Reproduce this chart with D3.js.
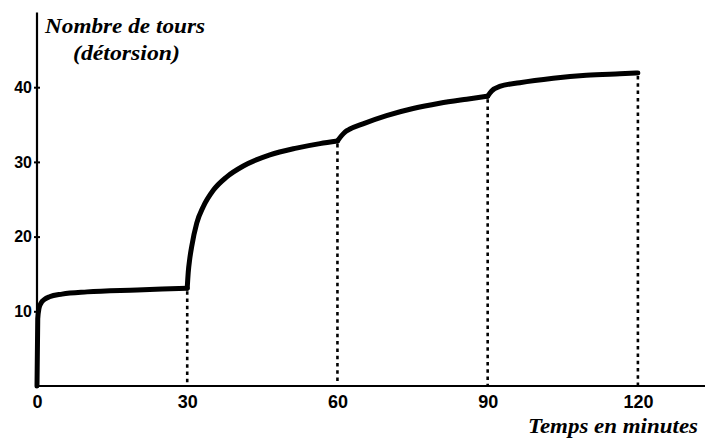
<!DOCTYPE html>
<html>
<head>
<meta charset="utf-8">
<script src="https://cdn.jsdelivr.net/npm/d3@7"></script>
<style>
  html, body { margin: 0; padding: 0; background: #fff; }
  svg { display: block; }
</style>
</head>
<body>
<svg id="chart" width="709" height="448"></svg>
<script>
// Twist count (détorsion) over time; each 30-minute stage starts with a sharp rise.
const stage1 = [[0, 0], [0.15, 9.0], [0.4, 10.4], [0.8, 11.1], [1.5, 11.6], [2.5, 11.95], [5, 12.3], [10, 12.6], [20, 12.85], [30, 13.1]];
const stage2 = [[30, 13.1], [30.2, 15.2], [30.5, 17.0], [30.9, 18.7], [31.9, 21.8], [33.2, 24.0], [35.2, 26.2], [37.9, 28.0], [41.2, 29.45], [46.5, 30.95], [51.8, 31.85], [56.5, 32.45], [60, 32.8]];
const stage3 = [[60, 32.8], [60.8, 33.5], [61.5, 34.0], [62.5, 34.4], [65.1, 35.1], [69.8, 36.2], [75.1, 37.15], [80.4, 37.85], [85.8, 38.4], [90, 38.8]];
const stage4 = [[90, 38.8], [90.8, 39.5], [92.4, 40.1], [96.4, 40.6], [103.1, 41.2], [109.7, 41.6], [116.4, 41.8], [120, 41.9]];
const stages = [stage1, stage2, stage3, stage4];

// Stage boundaries (minutes) and the reading reached at each one
const markTimes = [30, 60, 90, 120];
const markValues = [13.1, 32.8, 38.8, 41.9];

const xTicks = [0, 30, 60, 90, 120];
const yTicks = [10, 20, 30, 40];

const svg = d3.select("#chart");
const x = d3.scaleLinear().domain([0, 133.4]).range([37, 705]);
const y = d3.scaleLinear().domain([0, 50]).range([386, 12.5]);

const labelFont = "'Liberation Sans', Arial, sans-serif";
const scriptFont = "'Liberation Serif', 'DejaVu Serif', serif";

// Axes lines
svg.append("line")
  .attr("x1", x(0)).attr("x2", x(0))
  .attr("y1", y(0)).attr("y2", y(50))
  .attr("stroke", "#000").attr("stroke-width", 2.2);
svg.append("line")
  .attr("x1", x(0)).attr("x2", x(133.4))
  .attr("y1", y(0)).attr("y2", y(0))
  .attr("stroke", "#000").attr("stroke-width", 2);

// Y ticks: short marks across the axis, with labels on the left
const yAxis = d3.axisLeft(y).tickValues(yTicks).tickSizeInner(3).tickSizeOuter(0).tickPadding(3);
const gy = svg.append("g").attr("transform", `translate(${x(0)},0)`).call(yAxis);
gy.select(".domain").remove();
gy.selectAll(".tick line").attr("stroke-width", 2).attr("x2", -3).attr("x1", 3);
gy.selectAll(".tick text")
  .attr("font-family", labelFont).attr("font-weight", "bold")
  .attr("font-size", 16).attr("fill", "#000").attr("x", -5);

// X labels
const xAxis = d3.axisBottom(x).tickValues(xTicks).tickSize(0).tickPadding(9);
const gx = svg.append("g").attr("transform", `translate(0,${y(0)})`).call(xAxis);
gx.select(".domain").remove();
gx.selectAll(".tick text")
  .attr("font-family", labelFont).attr("font-weight", "bold")
  .attr("font-size", 18).attr("fill", "#000");

// Dotted verticals at each stage boundary
svg.selectAll("line.mark")
  .data(markTimes)
  .join("line")
  .attr("class", "mark")
  .attr("x1", d => x(d)).attr("x2", d => x(d))
  .attr("y1", (d, i) => y(markValues[i]) + 3)
  .attr("y2", y(0))
  .attr("stroke", "#000")
  .attr("stroke-width", 2.6)
  .attr("stroke-dasharray", "3.5,3.8");

// Curve, one stroke per stage so the junctions keep their cusps
const line = d3.line()
  .x(d => x(d[0]))
  .y(d => y(d[1]))
  .curve(d3.curveMonotoneX);

svg.selectAll("path.stage")
  .data(stages)
  .join("path")
  .attr("class", "stage")
  .attr("d", line)
  .attr("fill", "none")
  .attr("stroke", "#000")
  .attr("stroke-width", 5)
  .attr("stroke-linejoin", "round")
  .attr("stroke-linecap", "round");

// Titles
svg.append("text")
  .attr("x", 45).attr("y", 33)
  .attr("font-family", scriptFont).attr("font-style", "italic").attr("font-weight", "bold")
  .attr("font-size", 21)
  .attr("textLength", 160).attr("lengthAdjust", "spacingAndGlyphs")
  .text("Nombre de tours");
svg.append("text")
  .attr("x", 73).attr("y", 60)
  .attr("font-family", scriptFont).attr("font-style", "italic").attr("font-weight", "bold")
  .attr("font-size", 21)
  .attr("textLength", 107).attr("lengthAdjust", "spacingAndGlyphs")
  .text("(détorsion)");
svg.append("text")
  .attr("x", 528).attr("y", 433)
  .attr("font-family", scriptFont).attr("font-style", "italic").attr("font-weight", "bold")
  .attr("font-size", 22)
  .attr("textLength", 170).attr("lengthAdjust", "spacingAndGlyphs")
  .text("Temps en minutes");
</script>
</body>
</html>
